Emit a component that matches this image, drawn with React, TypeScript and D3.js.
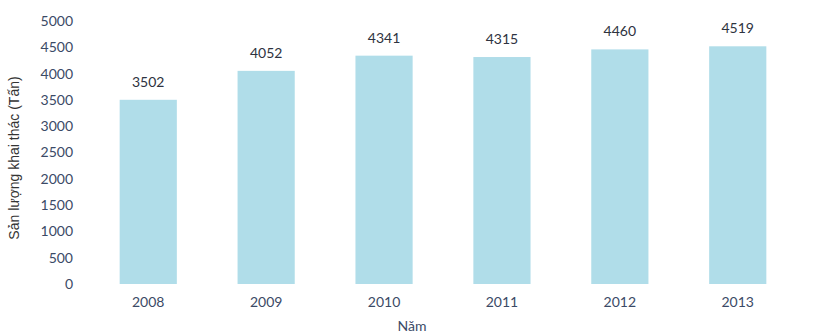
import React from "react";
import * as d3 from "d3";

const years = ["2008", "2009", "2010", "2011", "2012", "2013"];
const values = [3502, 4052, 4341, 4315, 4460, 4519];
const yTicks = [0, 500, 1000, 1500, 2000, 2500, 3000, 3500, 4000, 4500, 5000];

export default function App() {
  const W = 814, H = 336;
  const x = d3.scaleBand<string>().domain(years).range([89, 797]).paddingInner(0.515).paddingOuter(0.26);
  const y = d3.scaleLinear().domain([0, 5000]).range([284, 21]);
  const txt = "#3b4a66";
  const tickFont = "Lato, 'Open Sans', sans-serif";
  return (
    <svg width={W} height={H} style={{ position: "absolute", left: 0, top: 0, background: "#fff" }}>
      {yTicks.map((t) => (
        <text key={t} x={73} y={y(t)} dy="0.35em" textAnchor="end" fontSize={14} fill={txt} fontFamily={tickFont}>
          {t}
        </text>
      ))}
      {years.map((yr, i) => (
        <g key={yr}>
          <rect x={x(yr)} y={y(values[i])} width={x.bandwidth()} height={y(0) - y(values[i])} fill="#b0dde9" />
          <text x={(x(yr) as number) + x.bandwidth() / 2} y={y(values[i]) - 13} textAnchor="middle" fontSize={14} fill="#2e3340" fontFamily={tickFont}>
            {values[i]}
          </text>
          <text x={(x(yr) as number) + x.bandwidth() / 2} y={307} textAnchor="middle" fontSize={14} fill={txt} fontFamily={tickFont}>
            {yr}
          </text>
        </g>
      ))}
      <text transform="translate(19,158) rotate(-90)" textAnchor="middle" fontSize={14} fill="#333" fontFamily="'Liberation Sans', Arial, sans-serif">
        Sản lượng khai thác (Tấn)
      </text>
      <text x={412} y={331} textAnchor="middle" fontSize={14} fill={txt} fontFamily={tickFont}>
        Năm
      </text>
    </svg>
  );
}
